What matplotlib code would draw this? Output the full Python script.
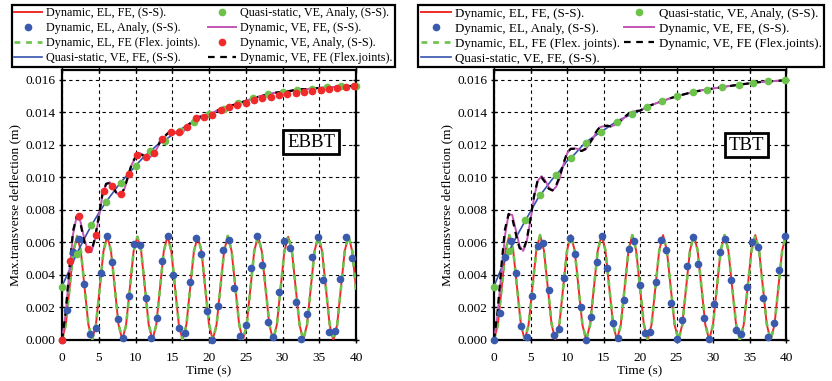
import numpy as np
import matplotlib
matplotlib.use("Agg")
import matplotlib.pyplot as plt
from matplotlib.ticker import MultipleLocator, FormatStrFormatter

plt.rcParams['font.family'] = ['Liberation Serif', 'DejaVu Serif']

# ---- data, deflections in mm (plotted in m) ----
# elastic oscillation, FE, sampled on an even time grid
el_fe_ebbt = [0.0, 0.94, 3.2, 5.46, 6.4, 5.46, 3.2, 0.94,
              0.0, 0.94, 3.2, 5.46, 6.4, 5.46, 3.2, 0.94,
              0.0, 0.94, 3.2, 5.46, 6.35, 5.46, 3.2, 0.94,
              0.0, 0.94, 3.2, 5.46, 6.4, 5.46, 3.2, 0.94,
              0.0, 0.94, 3.2, 5.46, 6.35, 5.46, 3.2, 0.94,
              0.0, 0.94, 3.2, 5.46, 6.4, 5.46, 3.2, 0.94,
              0.0, 0.94, 3.2, 5.46, 6.4, 5.46, 3.2, 0.94,
              0.0, 0.94, 3.2, 5.46, 6.35, 5.46, 3.2, 0.94,
              0.0, 0.94, 3.2, 5.46, 6.4, 5.46, 3.2, 0.94,
              0.0, 0.94, 3.2, 5.46, 6.4, 5.46, 3.2]
el_flex_ebbt = [0.0, 0.9, 3.15, 5.45, 6.35, 5.5, 3.25, 1.0,
                0.0, 0.9, 3.15, 5.45, 6.4, 5.5, 3.25, 1.0,
                0.0, 0.9, 3.15, 5.45, 6.35, 5.5, 3.25, 1.0,
                0.0, 0.9, 3.15, 5.45, 6.4, 5.5, 3.25, 1.0,
                0.0, 0.9, 3.15, 5.45, 6.35, 5.5, 3.25, 1.0,
                0.0, 0.9, 3.15, 5.45, 6.4, 5.5, 3.25, 1.0,
                0.0, 0.9, 3.15, 5.45, 6.35, 5.5, 3.25, 1.0,
                0.0, 0.9, 3.15, 5.45, 6.4, 5.5, 3.25, 1.0,
                0.0, 0.9, 3.15, 5.45, 6.35, 5.5, 3.25, 1.0,
                0.0, 0.9, 3.15, 5.45, 6.4, 5.5, 3.0]
el_fe_tbt = [0.0, 0.94, 3.22, 5.5, 6.45, 5.5, 3.22, 0.94,
             0.0, 0.94, 3.22, 5.5, 6.45, 5.5, 3.22, 0.94,
             0.0, 0.94, 3.22, 5.5, 6.45, 5.5, 3.22, 0.94,
             0.0, 0.94, 3.22, 5.5, 6.45, 5.5, 3.22, 0.94,
             0.0, 0.94, 3.22, 5.5, 6.45, 5.5, 3.22, 0.94,
             0.0, 0.94, 3.22, 5.5, 6.45, 5.5, 3.22, 0.94,
             0.0, 0.94, 3.22, 5.5, 6.45, 5.5, 3.22, 0.94,
             0.0, 0.94, 3.22, 5.5, 6.45, 5.5, 3.22, 0.94,
             0.0, 0.94, 3.22, 5.5, 6.45, 5.5, 3.22, 0.94,
             0.0, 0.94, 3.22, 5.5, 6.45]
el_flex_tbt = [0.0, 0.9, 3.18, 5.48, 6.45, 5.52, 3.26, 1.0,
               0.0, 0.9, 3.18, 5.48, 6.45, 5.52, 3.26, 1.0,
               0.0, 0.9, 3.18, 5.48, 6.45, 5.52, 3.26, 1.0,
               0.0, 0.9, 3.18, 5.48, 6.45, 5.52, 3.26, 1.0,
               0.0, 0.9, 3.18, 5.48, 6.45, 5.52, 3.26, 1.0,
               0.0, 0.9, 3.18, 5.48, 6.45, 5.52, 3.26, 1.0,
               0.0, 0.9, 3.18, 5.48, 6.45, 5.52, 3.26, 1.0,
               0.0, 0.9, 3.18, 5.48, 6.45, 5.52, 3.26, 1.0,
               0.0, 0.9, 3.18, 5.48, 6.45, 5.52, 3.26, 1.0,
               0.0, 0.9, 3.18, 5.48, 6.45]
t_osc_ebbt = np.linspace(0, 40, len(el_fe_ebbt))
t_osc_tbt = np.linspace(0, 40, len(el_fe_tbt))

# elastic, analytical (dots)
t_el_an_ebbt = [0, 0.7, 1.5, 2.3, 3.04, 3.8, 4.58, 5.3, 6.08, 6.85, 7.57, 8.34, 9.1,
                9.84, 10.6, 11.4, 12.15, 12.9, 13.65, 14.4, 15.15, 15.9, 16.7, 17.4,
                18.2, 18.9, 19.7, 20.45, 21.2, 21.95, 22.7, 23.45, 24.2, 25.0, 25.75,
                26.5, 27.25, 28.0, 28.75, 29.5, 30.25, 31.0, 31.8, 32.5, 33.3, 34.05,
                34.8, 35.55, 36.3, 37.1, 37.8, 38.6, 39.4]
el_an_ebbt = [0, 1.84, 5.4, 6.23, 3.43, 0.35, 0.75, 4.1, 6.38, 4.8, 1.29, 0.1, 2.7,
              5.9, 5.86, 2.6, 0.1, 1.33, 4.86, 6.38, 4.0, 0.72, 0.4, 3.56, 6.27,
              5.27, 1.78, 0.0, 2.08, 5.56, 6.13, 3.17, 0.25, 0.92, 4.4, 6.4, 4.6,
              1.12, 0.2, 2.96, 6.07, 5.66, 2.31, 0.04, 1.57, 5.1, 6.33, 3.68, 0.5,
              0.57, 3.78, 6.33, 5.05]
t_el_an_tbt = [0, 0.82, 1.55, 2.33, 3.0, 3.7, 4.47, 5.25, 6.0, 6.76, 7.5, 8.2, 8.95,
               9.64, 10.4, 11.1, 11.9, 12.6, 13.3, 14.07, 14.8, 15.5, 16.3, 17.0, 17.8,
               18.5, 19.2, 19.96, 20.7, 21.4, 22.15, 22.9, 23.6, 24.3, 25.07, 25.8,
               26.5, 27.26, 27.99, 28.7, 29.5, 30.2, 30.96, 31.7, 32.4, 33.15, 33.9,
               34.66, 35.4, 36.2, 36.9, 37.6, 38.4, 39.1, 39.8]
el_an_tbt = [0, 1.68, 5.1, 6.1, 4.13, 0.86, 0.2, 2.72, 5.78, 5.97, 3.07, 0.3, 0.67,
             3.82, 6.3, 5.31, 2.0, 0.0, 1.43, 4.8, 6.38, 4.43, 1.06, 0.1, 2.45, 5.62,
             6.09, 3.37, 0.4, 0.47, 3.54, 6.13, 5.52, 2.29, 0.04, 1.23, 4.54, 6.33,
             4.7, 1.33, 0.04, 2.19, 5.41, 6.19, 3.68, 0.61, 0.35, 3.23, 6.03, 5.72,
             2.59, 0.16, 1.02, 4.29, 6.38]

# quasi-static viscoelastic
t_qs = list(range(41))
qs_fe_ebbt = [3.3, 4.3, 5.3, 6.2, 7.05, 7.8, 8.5, 9.1, 9.7, 10.2, 10.7, 11.2, 11.6,
              12.0, 12.3, 12.6, 12.9, 13.2, 13.43, 13.7, 13.9, 14.05, 14.2, 14.4,
              14.55, 14.7, 14.85, 15.0, 15.1, 15.2, 15.26, 15.33, 15.4, 15.42, 15.45,
              15.5, 15.53, 15.56, 15.6, 15.62, 15.64]
qs_fe_tbt = [3.3, 4.4, 5.4, 6.3, 7.1, 7.9, 8.7, 9.3, 9.9, 10.4, 11.0, 11.4, 11.9,
             12.3, 12.6, 12.9, 13.2, 13.5, 13.7, 13.9, 14.1, 14.35, 14.52, 14.68,
             14.84, 14.99, 15.1, 15.22, 15.32, 15.4, 15.46, 15.53, 15.6, 15.66, 15.72,
             15.78, 15.84, 15.88, 15.91, 15.94, 15.96]
t_qs_an_ebbt = [0, 2, 4, 6, 8, 10, 12, 14, 16, 18, 20, 22, 24, 26, 28, 30, 32, 34, 36, 38, 40]
qs_an_ebbt = [3.23, 5.3, 7.05, 8.48, 9.67, 10.69, 11.6, 12.26, 12.87, 13.43, 13.9,
              14.2, 14.55, 14.85, 15.12, 15.26, 15.39, 15.43, 15.53, 15.59, 15.63]
t_qs_an_tbt = [0, 2.1, 4.25, 6.3, 8.45, 10.5, 12.56, 14.66, 16.8, 18.86, 21.0, 23.05,
               25.1, 27.2, 29.2, 31.3, 33.5, 35.5, 37.6, 39.86]
qs_an_tbt = [3.25, 5.5, 7.35, 8.9, 10.15, 11.22, 12.09, 12.81, 13.43, 13.9, 14.35,
             14.68, 14.99, 15.24, 15.4, 15.55, 15.69, 15.82, 15.9, 15.96]

# dynamic viscoelastic, FE
t_ve = [0, 0.5, 1, 1.5, 2, 2.5, 3, 3.5, 4, 4.5, 5, 5.5, 6, 6.5, 7, 7.5, 8, 8.5, 9,
        9.5, 10, 10.5, 11, 11.5, 12, 12.5, 13, 13.5, 14, 14.5, 15, 15.5, 16, 16.5,
        17, 17.5, 18, 18.5, 19, 19.5, 20, 21, 22, 23, 24, 25, 26, 27, 28, 29, 30,
        31, 32, 33, 34, 35, 36, 37, 38, 39, 40]
ve_fe_ebbt = [0, 1.62, 4.2, 6.5, 7.6, 7.3, 6.3, 5.5, 5.4, 6.2, 7.5, 8.9, 9.6, 9.7,
              9.4, 9.0, 8.9, 9.3, 10.0, 10.8, 11.2, 11.5, 11.4, 11.25, 11.25, 11.45,
              11.84, 12.3, 12.5, 12.75, 12.7, 12.8, 12.7, 12.8, 13.1, 13.3, 13.54,
              13.63, 13.8, 13.8, 13.8, 14.1, 14.2, 14.4, 14.55, 14.7, 14.85, 15.0,
              15.1, 15.2, 15.26, 15.3, 15.4, 15.42, 15.45, 15.5, 15.53, 15.56, 15.59,
              15.61, 15.63]
ve_flex_ebbt = [0, 1.7, 4.4, 6.7, 7.6, 7.2, 6.1, 5.4, 5.45, 6.3, 7.6, 8.95, 9.6,
                9.65, 9.35, 8.95, 8.9, 9.35, 10.1, 10.85, 11.25, 11.5, 11.35, 11.2,
                11.25, 11.5, 11.9, 12.35, 12.55, 12.75, 12.7, 12.75, 12.7, 12.85,
                13.15, 13.35, 13.55, 13.65, 13.8, 13.8, 13.82, 14.1, 14.2, 14.4,
                14.55, 14.7, 14.85, 15.0, 15.1, 15.2, 15.26, 15.3, 15.4, 15.42, 15.45,
                15.5, 15.53, 15.56, 15.59, 15.61, 15.63]
ve_fe_tbt = [0, 1.57, 4.09, 6.4, 7.74, 7.69, 6.75, 5.78, 5.48, 6.09, 7.37, 8.78,
             9.79, 10.07, 9.82, 9.39, 9.18, 9.41, 9.94, 10.75, 11.45, 11.77, 11.79,
             11.74, 11.62, 11.69, 11.99, 12.32, 12.76, 13.08, 13.14, 13.19, 13.12,
             13.21, 13.32, 13.51, 13.74, 13.92, 14.04, 14.08, 14.09, 14.35, 14.52,
             14.68, 14.84, 14.98, 15.1, 15.22, 15.31, 15.39, 15.46, 15.53, 15.6,
             15.66, 15.72, 15.78, 15.84, 15.88, 15.91, 15.94, 15.97]
ve_flex_tbt = [0, 1.8, 4.5, 6.8, 7.75, 7.5, 6.5, 5.65, 5.5, 6.2, 7.5, 8.9, 9.85,
               10.0, 9.7, 9.3, 9.2, 9.5, 10.05, 10.85, 11.5, 11.75, 11.75, 11.68,
               11.62, 11.75, 12.05, 12.4, 12.8, 13.1, 13.15, 13.17, 13.14, 13.23,
               13.35, 13.55, 13.76, 13.93, 14.04, 14.08, 14.1, 14.35, 14.52, 14.68,
               14.84, 14.98, 15.1, 15.22, 15.31, 15.39, 15.46, 15.53, 15.6, 15.66,
               15.72, 15.78, 15.84, 15.88, 15.91, 15.94, 15.97]

# dynamic viscoelastic, analytical (EBBT only)
t_ve_an_ebbt = [0, 1.09, 2.3, 3.5, 4.58, 5.7, 6.85, 8.0, 9.1, 10.25, 11.4, 12.5, 13.65,
                14.8, 15.9, 17.05, 18.2, 19.3, 20.45, 21.6, 22.7, 23.85, 25.0, 26.1,
                27.25, 28.4, 29.5, 30.65, 31.8, 32.9, 34.05, 35.2, 36.3, 37.45, 38.6, 39.7]
ve_an_ebbt = [0, 4.84, 7.6, 5.62, 6.44, 9.15, 9.46, 8.99, 10.22, 11.4, 11.28, 11.48,
              12.36, 12.77, 12.77, 13.12, 13.63, 13.69, 13.84, 14.14, 14.35, 14.45,
              14.55, 14.76, 14.85, 14.96, 15.06, 15.12, 15.18, 15.26, 15.33, 15.39,
              15.43, 15.49, 15.53, 15.59]

lbl = ["Dynamic, EL, FE, (S-S).", "Dynamic, EL, Analy, (S-S).",
       "Dynamic, EL, FE (Flex. joints).", "Quasi-static, VE, FE, (S-S).",
       "Quasi-static, VE, Analy, (S-S).", "Dynamic, VE, FE, (S-S).",
       "Dynamic, VE, Analy, (S-S).", "Dynamic, VE, FE (Flex.joints)."]

RED = '#f02a2a'
BLUE_DOT = '#3a5aae'
GREEN = '#6cc24a'
MAGENTA = '#c455b5'
BLUE_LINE = '#3653ad'

def mm(v):
    return np.array(v) / 1000.0


fig = plt.figure(figsize=(8.32, 3.81), dpi=100)
ax1 = fig.add_axes([62/832, 1-340/381, 294/832, 270/381])
ax2 = fig.add_axes([494/832, 1-340/381, 292/832, 270/381])

panels = [
    (ax1, t_osc_ebbt, el_fe_ebbt, el_flex_ebbt, t_el_an_ebbt, el_an_ebbt, qs_fe_ebbt,
     t_qs_an_ebbt, qs_an_ebbt, ve_fe_ebbt, ve_flex_ebbt, 'EBBT', (33.9, 0.01216)),
    (ax2, t_osc_tbt, el_fe_tbt, el_flex_tbt, t_el_an_tbt, el_an_tbt, qs_fe_tbt,
     t_qs_an_tbt, qs_an_tbt, ve_fe_tbt, ve_flex_tbt, 'TBT', (34.6, 0.01198)),
]

for (ax, t_osc, el_fe, el_flex, t_an, el_an, qs_fe, t_qa, qs_an, ve_fe, ve_flex,
     name, pos) in panels:
    h = {}
    h[0], = ax.plot(t_osc, mm(el_fe), color=RED, lw=1.4, zorder=3)
    h[2], = ax.plot(t_osc, mm(el_flex), color=GREEN, lw=1.9, ls=(0, (2.2, 2.2)), zorder=3)
    h[3], = ax.plot(t_qs, mm(qs_fe), color=BLUE_LINE, lw=1.2, zorder=3)
    h[5], = ax.plot(t_ve, mm(ve_fe), color=MAGENTA, lw=1.4, zorder=3)
    h[7], = ax.plot(t_ve, mm(ve_flex), color='black', lw=1.6, ls=(0, (3, 2.5)), zorder=3)
    h[1], = ax.plot(t_an, mm(el_an), 'o', color=BLUE_DOT, ms=4.5, zorder=4, clip_on=False)
    h[4], = ax.plot(t_qa, mm(qs_an), 'o', color=GREEN, ms=4.5, zorder=4, clip_on=False)
    if name == 'EBBT':
        h[6], = ax.plot(t_ve_an_ebbt, mm(ve_an_ebbt), 'o', color=RED, ms=4.5, zorder=5,
                        clip_on=False)

    ax.set_xlim(0, 40)
    ax.set_ylim(0, 0.0166)
    ax.xaxis.set_major_locator(MultipleLocator(5))
    ax.yaxis.set_major_locator(MultipleLocator(0.002))
    ax.yaxis.set_major_formatter(FormatStrFormatter('%.3f'))
    ax.grid(True, color='black', ls=(0, (3, 3)), lw=0.8)
    ax.set_axisbelow(True)
    for s in ax.spines.values():
        s.set_linewidth(1.6)
    ax.tick_params(direction='inout', length=5, width=1, labelsize=9.6, top=True,
                   right=True, pad=2)
    ax.tick_params(axis='x', pad=6)
    ax.set_xlabel('Time (s)', fontsize=9.6, labelpad=1)
    ax.set_ylabel('Max.transverse deflection (m)', fontsize=9.6, labelpad=3)
    ax.text(pos[0], pos[1], name, fontsize=13.5, ha='center', va='center', zorder=6,
            bbox=dict(boxstyle='square,pad=0.2', fc='white', ec='black', lw=2))

    if name == 'EBBT':
        order = [0, 1, 2, 3, 4, 5, 6, 7]
        anchor, fs, sp, cs = (12/832, 1-5/381), 8.7, 0.24, 0.6
    else:
        order = [0, 1, 2, 3, 4, 5, 7]
        anchor, fs, sp, cs = (418/832, 1-5/381), 9.4, 0.22, 0.3
    leg = ax.legend([h[i] for i in order], [lbl[i] for i in order], ncol=2,
                    loc='upper left', bbox_to_anchor=anchor, bbox_transform=fig.transFigure,
                    fontsize=fs, fancybox=False, edgecolor='black', framealpha=1,
                    borderpad=0.2, labelspacing=sp, handlelength=2.3,
                    handletextpad=0.35, columnspacing=cs, borderaxespad=0)
    leg.get_frame().set_linewidth(1.6)
    leg.set_zorder(10)

fig.savefig('out.png', dpi=100)
